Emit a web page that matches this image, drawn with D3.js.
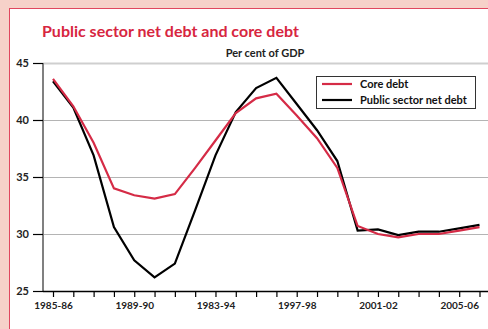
<!DOCTYPE html>
<html>
<head>
<meta charset="utf-8">
<script src="https://cdn.jsdelivr.net/npm/d3@7"></script>
<style>
  html, body { margin: 0; padding: 0; background: #f6d1c9; }
  svg { display: block; }
  text { font-family: Lato, "Open Sans", sans-serif; }
</style>
</head>
<body>
<svg id="chart" width="488" height="329"></svg>
<script>
// Financial years, 1985-86 to 2006-07
const years = ["1985-86","1986-87","1987-88","1988-89","1989-90","1990-91","1991-92","1992-93",
  "1993-94","1994-95","1995-96","1996-97","1997-98","1998-99","1999-00","2000-01","2001-02",
  "2002-03","2003-04","2004-05","2005-06","2006-07"];

// Per cent of GDP
const coreDebt = [43.6, 41.2, 38.0, 34.0, 33.4, 33.1, 33.5, 35.8, 38.2, 40.6, 41.9, 42.3,
  40.4, 38.4, 35.8, 30.7, 30.0, 29.7, 30.0, 30.0, 30.3, 30.6];
const netDebt = [43.4, 41.1, 36.9, 30.6, 27.7, 26.2, 27.4, 32.1, 36.9, 40.7, 42.8, 43.7,
  41.4, 39.1, 36.4, 30.3, 30.4, 29.9, 30.2, 30.2, 30.5, 30.8];

// Axis labels: every fourth year is labelled
const xTickLabels = ["1985-86","1989-90","1983-94","1997-98","2001-02","2005-06"];
const yTicks = [25, 30, 35, 40, 45];

const seriesNames = ["Core debt", "Public sector net debt"];
const seriesColors = ["#d52b46", "#000000"];

const svg = d3.select("#chart");

// White panel with a red rule on top and left
svg.append("rect").attr("x", 9).attr("y", 8).attr("width", 500).attr("height", 340)
  .attr("fill", "#ffffff");
svg.append("line").attr("x1", 9).attr("x2", 488).attr("y1", 8.5).attr("y2", 8.5)
  .attr("stroke", "#e0475f").attr("stroke-width", 1);
svg.append("line").attr("x1", 9.5).attr("x2", 9.5).attr("y1", 8).attr("y2", 329)
  .attr("stroke", "#e0475f").attr("stroke-width", 1);

svg.append("text").attr("x", 42).attr("y", 37)
  .attr("fill", "#d7263f").attr("font-size", 16).attr("font-weight", "bold")
  .text("Public sector net debt and core debt");

svg.append("text").attr("x", 265).attr("y", 57).attr("text-anchor", "middle")
  .attr("fill", "#222").attr("font-size", 11).attr("font-weight", "bold")
  .text("Per cent of GDP");

const plotLeft = 43, plotRight = 488, plotTop = 63, plotBottom = 291;

const x = d3.scalePoint().domain(years).range([53, 479.5]).padding(0);
const y = d3.scaleLinear().domain([25, 45]).range([plotBottom, plotTop]);

// Horizontal gridlines
svg.append("g").selectAll("line").data(yTicks.filter(v => v > 25)).join("line")
  .attr("x1", plotLeft).attr("x2", plotRight)
  .attr("y1", d => y(d) + 0.5).attr("y2", d => y(d) + 0.5)
  .attr("stroke", d => d === 45 ? "#cfcfcf" : "#b4b4b4")
  .attr("stroke-width", d => d === 45 ? 2 : 1);

// Y axis
const yAxis = svg.append("g").attr("transform", `translate(${plotLeft},0)`)
  .call(d3.axisLeft(y).tickValues(yTicks).tickSize(10).tickPadding(4));
yAxis.select(".domain").attr("stroke", "#808080").attr("stroke-width", 2)
  .attr("d", `M0,${plotTop}V${plotBottom}`);
yAxis.selectAll(".tick line").attr("stroke", "#000").attr("stroke-width", 1.2);
yAxis.selectAll(".tick text").attr("font-size", 11).attr("font-weight", "bold")
  .attr("fill", "#222").attr("font-family", "Lato, 'Open Sans', sans-serif");

// X axis
const xAxis = svg.append("g").attr("transform", `translate(0,${plotBottom})`)
  .call(d3.axisBottom(x).tickSize(6).tickPadding(5)
    .tickFormat((d, i) => i % 4 === 0 ? xTickLabels[i / 4] : ""));
xAxis.select(".domain").attr("stroke", "#000").attr("stroke-width", 1.5)
  .attr("d", `M${plotLeft},0.5H${plotRight}`);
xAxis.selectAll(".tick line").attr("stroke", "#000").attr("stroke-width", 1.2);
xAxis.selectAll(".tick text").attr("font-size", 10).attr("font-weight", "bold")
  .attr("fill", "#222").attr("font-family", "Lato, 'Open Sans', sans-serif");

// Series lines
const line = d3.line().x((d, i) => x(years[i])).y(d => y(d));
[netDebt, coreDebt].forEach((vals, k) => {
  svg.append("path").datum(vals)
    .attr("fill", "none")
    .attr("stroke", k === 0 ? seriesColors[1] : seriesColors[0])
    .attr("stroke-width", 2.2)
    .attr("stroke-linejoin", "miter")
    .attr("d", line);
});

// Legend
const lg = svg.append("g").attr("transform", "translate(316,76)");
lg.append("rect").attr("x", 0.5).attr("y", 0.5).attr("width", 159).attr("height", 32)
  .attr("fill", "#fff").attr("stroke", "#333").attr("stroke-width", 1);
seriesNames.forEach((name, i) => {
  const yy = 8 + i * 16;
  lg.append("line").attr("x1", 6).attr("x2", 36).attr("y1", yy).attr("y2", yy)
    .attr("stroke", seriesColors[i]).attr("stroke-width", 2.2);
  lg.append("text").attr("x", 44).attr("y", yy + 4)
    .attr("font-size", 11).attr("font-weight", "bold").attr("fill", "#111")
    .text(name);
});
</script>
</body>
</html>
